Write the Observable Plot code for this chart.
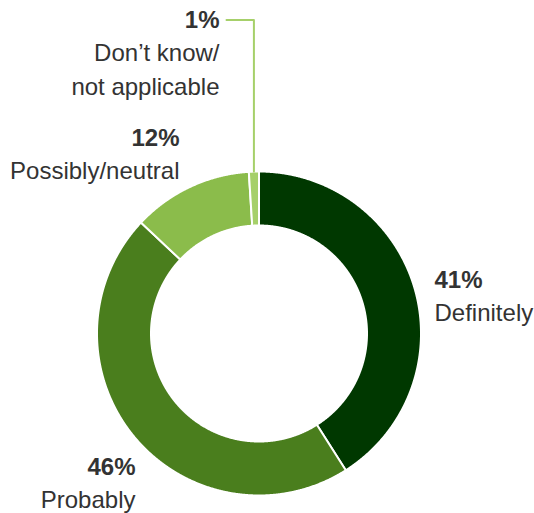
<!DOCTYPE html>
<html><head><meta charset="utf-8">
<script src="https://cdn.jsdelivr.net/npm/d3@7"></script>
<script src="https://cdn.jsdelivr.net/npm/@observablehq/plot@0.6"></script>
<style>body{margin:0;background:#fff}</style>
</head><body><div id="chart"></div>
<script>
const categories = ["Definitely", "Probably", "Possibly/neutral", "Don’t know/\nnot applicable"];
const values = [41, 46, 12, 1];
const pctLabels = ["41%", "46%", "12%", "1%"];
const colors = ["#003800", "#4a7e1d", "#8bbc4b", "#a6d06a"];

// layout
const W = 534, H = 513, cx = 258.5, cy = 333, R = 162, r = 108;
const labelLayout = [
  {x: 434, y: 287, anchor: "start"},
  {x: 135, y: 474, anchor: "end"},
  {x: 179, y: 145, anchor: "end"},
  {x: 219, y: 27, anchor: "end"}
];
const lineGap = 33.5;
const FS = 24;

const arcs = d3.pie().sort(null).value(d => d)(values);
const slicePts = [];
arcs.forEach((a, i) => {
  const n = Math.max(4, Math.ceil((a.endAngle - a.startAngle) / (Math.PI / 720)));
  const pts = [];
  for (let k = 0; k <= n; k++) {
    const t = a.startAngle + (a.endAngle - a.startAngle) * k / n;
    pts.push([cx + R * Math.sin(t), cy - R * Math.cos(t)]);
  }
  for (let k = n; k >= 0; k--) {
    const t = a.startAngle + (a.endAngle - a.startAngle) * k / n;
    pts.push([cx + r * Math.sin(t), cy - r * Math.cos(t)]);
  }
  pts.push(pts[0]);
  pts.forEach(p => slicePts.push({cat: categories[i], x: p[0], y: p[1]}));
});

// leader for smallest slice
const small = arcs[3];
const mid = (small.startAngle + small.endAngle) / 2;
const lx = cx + R * Math.sin(mid);
const leader = [
  {x: lx, y: cy - R * Math.cos(mid)},
  {x: lx, y: 19.5},
  {x: 226, y: 19.5}
];

const boldRows = [], normRows = [];
categories.forEach((c, i) => {
  const L = labelLayout[i];
  boldRows.push({x: L.x, y: L.y, text: pctLabels[i], anchor: L.anchor});
  c.split("\n").forEach((line, j) => {
    normRows.push({x: L.x, y: L.y + lineGap * (j + 1), text: line, anchor: L.anchor});
  });
});

const chart = Plot.plot({
  width: W, height: H, margin: 0,
  x: {type: "identity", axis: null},
  y: {type: "identity", axis: null},
  color: {domain: categories, range: colors},
  style: {fontFamily: "'Liberation Sans', Arial, Helvetica, sans-serif", background: "#fff"},
  marks: [
    Plot.line(slicePts, {x: "x", y: "y", z: "cat", fill: "cat", stroke: "white", strokeWidth: 2, curve: "linear"}),
    Plot.line(leader, {x: "x", y: "y", stroke: colors[3], strokeWidth: 2}),
    Plot.text(boldRows.filter(d => d.anchor === "start"), {x: "x", y: "y", text: "text", textAnchor: "start", lineAnchor: "bottom", fontSize: FS, fontWeight: "bold", fill: "#333"}),
    Plot.text(boldRows.filter(d => d.anchor === "end"), {x: "x", y: "y", text: "text", textAnchor: "end", lineAnchor: "bottom", fontSize: FS, fontWeight: "bold", fill: "#333"}),
    Plot.text(normRows.filter(d => d.anchor === "start"), {x: "x", y: "y", text: "text", textAnchor: "start", lineAnchor: "bottom", fontSize: FS, fill: "#333"}),
    Plot.text(normRows.filter(d => d.anchor === "end"), {x: "x", y: "y", text: "text", textAnchor: "end", lineAnchor: "bottom", fontSize: FS, fill: "#333"})
  ]
});
document.getElementById("chart").appendChild(chart);
</script>
</body></html>
